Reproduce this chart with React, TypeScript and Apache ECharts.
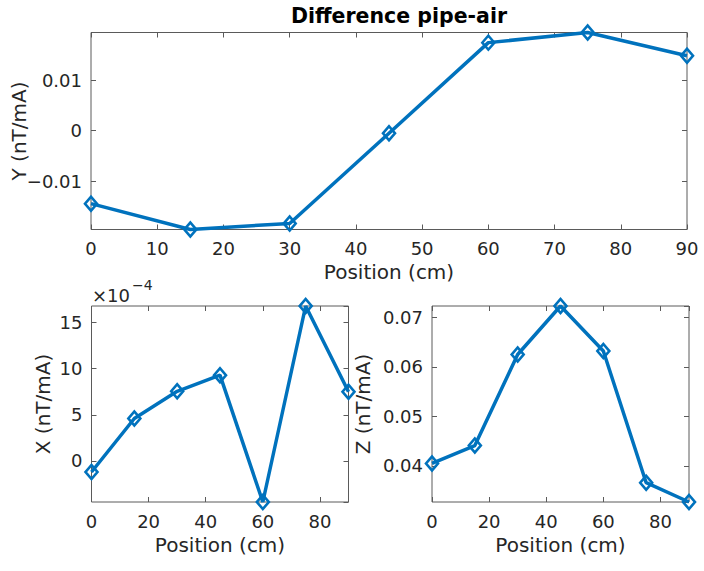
import React, { useEffect, useRef } from "react";
import * as echarts from "echarts";

const positions = [0, 15, 30, 45, 60, 75, 90];
const yValues = [-0.0144, -0.0195, -0.0183, -0.0005, 0.0174, 0.0194, 0.0148];
const xValues = [-1.2e-4, 4.6e-4, 7.55e-4, 9.3e-4, -4.45e-4, 16.8e-4, 7.5e-4];
const zValues = [0.0405, 0.0441, 0.0625, 0.0723, 0.0632, 0.0366, 0.0327];

const titleText = "Difference pipe-air";
const xAxisName = "Position (cm)";
const yNames = ["Y (nT/mA)", "X (nT/mA)", "Z (nT/mA)"];

const BLUE = "#0072BD";
const TXT = "#262626";
const AX = "#5a5a5a";
const FONT = "DejaVu Sans";

const minus = (s: string) => s.replace(/-/g, "\u2212");

function pairs(vals: number[]) {
  return positions.map((p, i) => [p, vals[i]]);
}

export default function App() {
  const ref = useRef<HTMLDivElement>(null);
  useEffect(() => {
    if (!ref.current) return;
    const chart = echarts.init(ref.current, null, { renderer: "svg" });

    const grids = [
      { left: 91, top: 32.5, width: 596, height: 197 },
      { left: 91.5, top: 306, width: 257, height: 196 },
      { left: 432, top: 306, width: 257, height: 196 },
    ];
    const xIntervals = [10, 20, 20];
    const seriesVals = [yValues, xValues, zValues];
    const yFormat = [
      (v: number) => minus(String(+v.toFixed(4))),
      (v: number) => minus(String(Math.round(v * 1e4))),
      (v: number) => minus(String(+v.toFixed(4))),
    ];
    const yGaps = [62, 39, 59];
    const xGaps = [32, 33, 33];

    const xAxes: any[] = [];
    const yAxes: any[] = [];
    const series: any[] = [];

    grids.forEach((g, i) => {
      const vals = seriesVals[i];
      const ymin = Math.min(...vals);
      const ymax = Math.max(...vals);
      const common = {
        gridIndex: i,
        type: "value",
        axisLine: { show: false, onZero: false },
        splitLine: { show: false },
        axisTick: { show: true, inside: true, length: 5, lineStyle: { color: AX, width: 1 } },
      };
      xAxes.push({
        ...common,
        position: "bottom",
        min: 0,
        max: 90,
        interval: xIntervals[i],
        name: xAxisName,
        nameLocation: "middle",
        nameGap: xGaps[i],
        nameMoveOverlap: false,
        nameTextStyle: { color: TXT, fontSize: 20, fontFamily: FONT },
        axisLabel: {
          show: true,
          color: TXT,
          fontSize: 18,
          fontFamily: FONT,
          margin: 10,
          showMaxLabel: i === 0,
          showMinLabel: true,
        },
      });
      xAxes.push({
        ...common,
        position: "top",
        min: 0,
        max: 90,
        interval: xIntervals[i],
        axisLabel: { show: false },
      });
      yAxes.push({
        ...common,
        position: "left",
        min: ymin,
        max: ymax,
        name: yNames[i],
        nameLocation: "middle",
        nameGap: yGaps[i],
        nameMoveOverlap: false,
        nameTextStyle: { color: TXT, fontSize: 20, fontFamily: FONT },
        axisLabel: {
          show: true,
          color: TXT,
          fontSize: 18,
          fontFamily: FONT,
          margin: 9,
          showMinLabel: false,
          showMaxLabel: false,
          formatter: yFormat[i],
        },
      });
      yAxes.push({
        ...common,
        position: "right",
        min: ymin,
        max: ymax,
        axisLabel: { show: false },
      });
      series.push({
        type: "line",
        xAxisIndex: i * 2,
        yAxisIndex: i * 2,
        data: pairs(vals),
        clip: false,
        symbol: "diamond",
        symbolSize: [12, 14],
        showSymbol: true,
        lineStyle: { color: BLUE, width: 3.5 },
        itemStyle: { color: "rgba(0,0,0,0)", borderColor: BLUE, borderWidth: 2.6 },
        emphasis: { disabled: true },
      });
    });

    chart.setOption({
      animation: false,
      backgroundColor: "#ffffff",
      title: {
        text: titleText,
        left: 394,
        top: 0,
        textAlign: "center",
        textStyle: { color: "#000", fontSize: 20.5, fontWeight: "bold", fontFamily: FONT },
      },
      grid: grids.map((g) => ({
        ...g,
        show: true,
        borderColor: AX,
        borderWidth: 1,
        backgroundColor: "#fff",
        containLabel: false,
        outerBoundsMode: "none",
      })),
      xAxis: xAxes,
      yAxis: yAxes,
      series,
      graphic: [
        {
          type: "text",
          left: 92,
          top: 286,
          style: { text: "\u00d710", fill: TXT, fontSize: 18, fontFamily: FONT },
        },
        {
          type: "text",
          left: 132,
          top: 278,
          style: { text: "\u22124", fill: TXT, fontSize: 14, fontFamily: FONT },
        },
      ],
    });
    return () => chart.dispose();
  }, []);
  return (
    <div
      ref={ref}
      style={{ position: "fixed", left: 0, top: 0, width: 704, height: 571 }}
    />
  );
}
